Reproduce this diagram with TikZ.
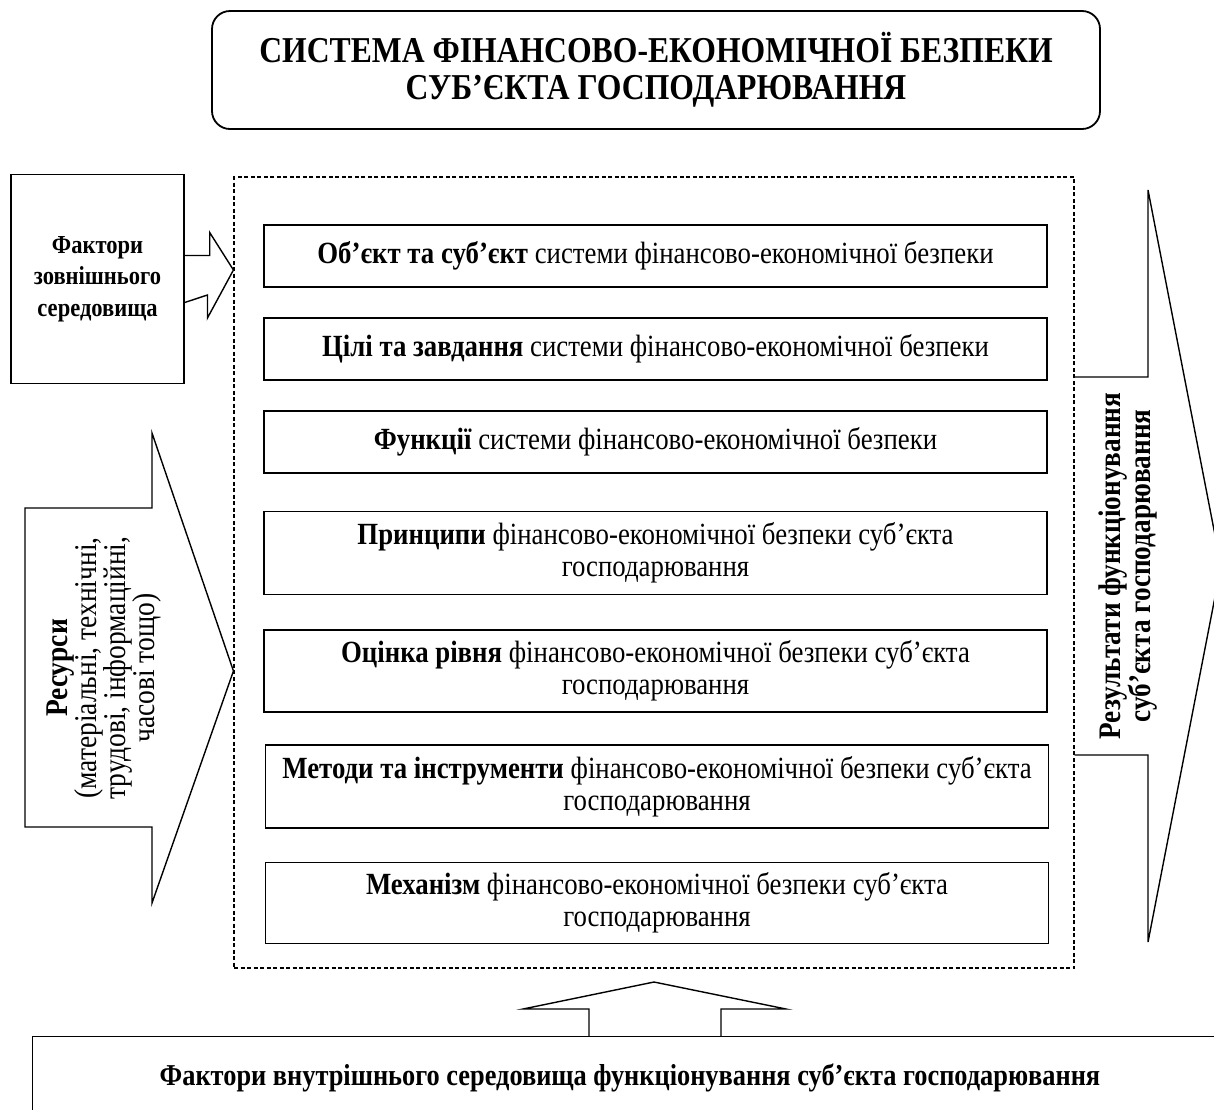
\documentclass[tikz,border=0pt]{standalone}
\usepackage{fontspec}
\setmainfont{Liberation Serif}[FakeStretch=0.87]
\usetikzlibrary{calc}
\begin{document}
\begin{tikzpicture}[x=1pt,y=-1pt,
  frame/.style={draw, line width=1.4pt},
  inbox/.style={frame, minimum width=783pt, inner sep=0pt, align=center,
     font=\fontsize{30.8}{32}\selectfont},
  blockarrow/.style={draw, line width=1.4pt, line join=miter},
]
\useasboundingbox (0,0) rectangle (1214,1109);
% title
\node[frame, line width=1.8pt, rounded corners=18pt, minimum width=888pt, minimum height=118pt, align=center,
  font=\fontsize{36.4}{37}\selectfont\bfseries] (title) at (656,70)
  {СИСТЕМА ФІНАНСОВО-ЕКОНОМІЧНОЇ БЕЗПЕКИ\\СУБ’ЄКТА ГОСПОДАРЮВАННЯ};
% external factors
\node[frame, minimum width=173pt, minimum height=209pt, align=center,
  font=\fontsize{25.9}{31.5}\selectfont\bfseries] (ext) at (97.5,279)
  {Фактори\\зовнішнього\\середовища};
% dashed system box
\node[draw, line width=1.1pt, dash pattern=on 4pt off 2.5pt, minimum width=840pt, minimum height=791pt] (sys) at (654,572.5) {};
% inner boxes
\node[inbox, minimum height=62pt] (b1) at (655.5,256) {\textbf{Об’єкт та суб’єкт} системи фінансово-економічної безпеки};
\node[inbox, minimum height=62pt] (b2) at (655.5,349) {\textbf{Цілі та завдання} системи фінансово-економічної безпеки};
\node[inbox, minimum height=62pt] (b3) at (655.5,442) {\textbf{Функції} системи фінансово-економічної безпеки};
\node[inbox, minimum height=83pt] (b4) at (655.5,553) {\textbf{Принципи} фінансово-економічної безпеки суб’єкта\\господарювання};
\node[inbox, minimum height=82pt] (b5) at (655.5,671) {\textbf{Оцінка рівня} фінансово-економічної безпеки суб’єкта\\господарювання};
\node[inbox, minimum height=83pt] (b6) at (657,786.5) {\textbf{Методи та інструменти} фінансово-економічної безпеки суб’єкта\\господарювання};
\node[inbox, minimum height=81pt] (b7) at (657,903) {\textbf{Механізм} фінансово-економічної безпеки суб’єкта\\господарювання};
% internal factors box (extends past the page)
\node[frame, minimum width=1200pt, minimum height=100pt, anchor=north west] (int) at (32,1036) {};
\node[font=\fontsize{30.3}{30}\selectfont\bfseries] (intlabel) at (630,1078)
  {Фактори внутрішнього середовища функціонування суб’єкта господарювання};
% arrow: external factors -> system
\coordinate (t1) at (sys.west |- 0,270);
\draw[blockarrow] ($(ext.east)+(0,-23.5)$) -- ++(25,0) -- ++(0,-23) -- (t1) -- ++(-26,48) -- ++(0,-23) -- ($(ext.east)+(0,23.5)$);
% resources arrow
\coordinate (t2) at (sys.west |- b5.center);
\draw[blockarrow] (t2) -- (152,433) -- (152,508) -- (25,508) -- (25,827) -- (152,827) -- (152,903) -- cycle;
\node[rotate=90, align=center, font=\fontsize{31.6}{29}\selectfont] (res) at (104,668)
  {\textbf{Ресурси}\\(матеріальні, технічні,\\трудові, інформаційні,\\часові тощо)};
% results arrow
\coordinate (t3) at (1221,566);
\draw[blockarrow] (sys.east |- 0,377) -- (1148,377) -- (1148,190) -- (t3) -- (1148,942) -- (1148,755) -- (sys.east |- 0,755);
\node[rotate=90, align=center, font=\fontsize{31.3}{30}\selectfont\bfseries] (resl) at (1128,566)
  {Результати функціонування\\суб’єкта господарювання};
% up arrow: internal factors -> system
\coordinate (t4) at (654,982);
\draw[blockarrow] (589,1036) -- (589,1009) -- (523,1009) -- (t4) -- (786,1009) -- (721,1009) -- (721,1036);
\end{tikzpicture}
\end{document}
